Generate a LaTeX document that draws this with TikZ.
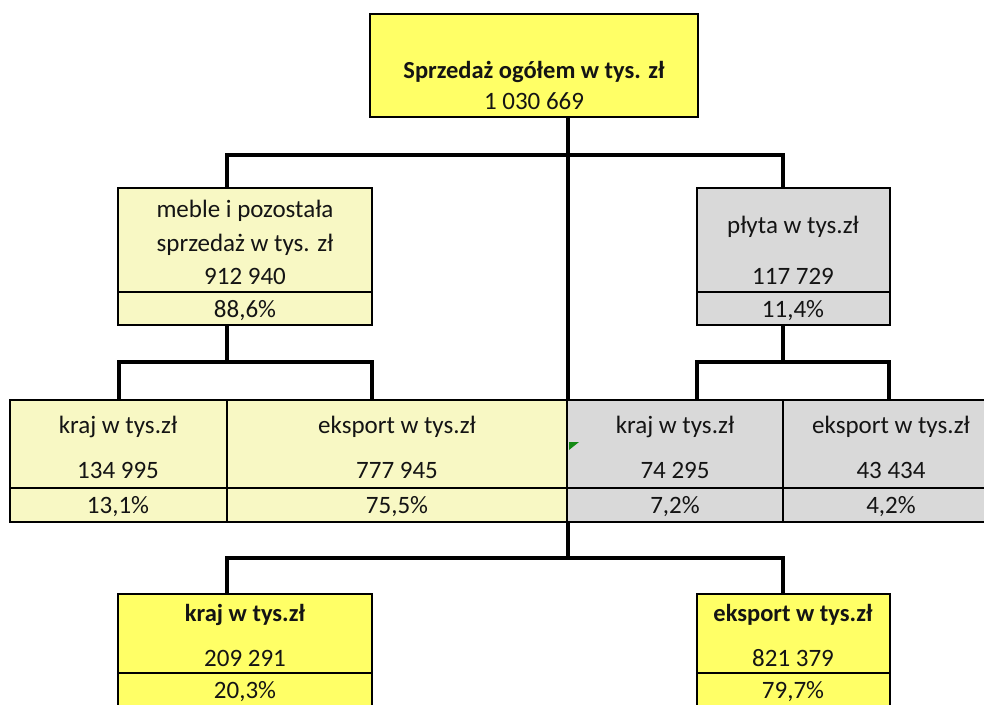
\documentclass[tikz,border=0pt]{standalone}
\usepackage{fontspec}
\setmainfont{Carlito}
\definecolor{ybright}{HTML}{FFFF66}
\definecolor{ypale}{HTML}{F8F8C4}
\definecolor{greyc}{HTML}{D9D9D9}
\definecolor{txt}{HTML}{141414}
\definecolor{flag}{HTML}{138A13}
\begin{document}
\begin{tikzpicture}[x=1pt,y=-1pt,
  cell/.style={draw=black, line width=2.8pt, inner sep=0pt, outer sep=0pt, anchor=north west},
  lbl/.style={text=txt, font=\fontsize{25}{29}\selectfont, inner sep=0pt, anchor=base},
  blbl/.style={text=txt, font=\fontsize{24.5}{29}\selectfont\bfseries, inner sep=0pt, anchor=base},
  conn/.style={line width=3.8pt, draw=black, line cap=rect}]
\useasboundingbox (0,0) rectangle (984,704);
\clip (0,0) rectangle (984,704);
\fill[white] (0,0) rectangle (984,704);

% connectors
\coordinate (t0) at (568,117);
\coordinate (bj) at (568,558);
\coordinate (ml) at (227,155);
\coordinate (mr) at (783,155);
\draw[conn] (t0) -- (bj);
\draw[conn] (ml) -- (mr);
\draw[conn] (ml) -- (227,188);
\draw[conn] (mr) -- (783,188);
\coordinate (lA) at (227,325);
\coordinate (lB) at (227,362);
\draw[conn] (lA) -- (lB);
\draw[conn] (119,400) -- (119,362) -- (372,362) -- (372,400);
\coordinate (rA) at (783,325);
\coordinate (rB) at (783,362);
\draw[conn] (rA) -- (rB);
\draw[conn] (697,400) -- (697,362) -- (889,362) -- (889,400);
\draw[conn] (227,594) -- (227,558) -- (783,558) -- (783,594);

% top
\node[cell, fill=ybright, minimum width=328, minimum height=103] (top) at (370,14) {};
% level 2
\node[cell, fill=ypale, minimum width=254, minimum height=104] (meb) at (118,188) {};
\node[cell, fill=ypale, minimum width=254, minimum height=33] (mebp) at (118,292) {};
\node[cell, fill=greyc, minimum width=193, minimum height=104] (ply) at (697,188) {};
\node[cell, fill=greyc, minimum width=193, minimum height=33] (plyp) at (697,292) {};
% level 3
\node[cell, fill=ypale, minimum width=217, minimum height=88] (k1) at (10,400) {};
\node[cell, fill=ypale, minimum width=217, minimum height=34] (k1p) at (10,488) {};
\node[cell, fill=ypale, minimum width=340, minimum height=88] (e1) at (227,400) {};
\node[cell, fill=ypale, minimum width=340, minimum height=34] (e1p) at (227,488) {};
\node[cell, fill=greyc, minimum width=216, minimum height=88] (k2) at (567,400) {};
\node[cell, fill=greyc, minimum width=216, minimum height=34] (k2p) at (567,488) {};
\node[cell, fill=greyc, minimum width=218, minimum height=88] (e2) at (783,400) {};
\node[cell, fill=greyc, minimum width=218, minimum height=34] (e2p) at (783,488) {};
\fill[flag] (569,442) -- (579,442) -- (569,450) -- cycle;
% bottom
\node[cell, fill=ybright, minimum width=254, minimum height=79] (bl) at (118,594) {};
\node[cell, fill=ybright, minimum width=254, minimum height=50] (blp) at (118,673) {};
\node[cell, fill=ybright, minimum width=193, minimum height=79] (br) at (697,594) {};
\node[cell, fill=ybright, minimum width=193, minimum height=50] (brp) at (697,673) {};

% texts
\node[blbl] (t1) at (534,78) {Sprzedaż ogółem w tys. zł};
\node[lbl] (t2) at (534,109) {1 030 669};
\node[lbl] (m1) at (245,217) {meble i pozostała};
\node[lbl] (m2) at (245,251) {sprzedaż w tys. zł};
\node[lbl] (m3) at (245,284) {912 940};
\node[lbl] (m4) at (245,317) {88,6\%};
\node[lbl] (p1) at (793,233) {płyta w tys.zł};
\node[lbl] (p2) at (793,284) {117 729};
\node[lbl] (p3) at (793,317) {11,4\%};
\node[lbl] (a1) at (118,433) {kraj w tys.zł};
\node[lbl] (a2) at (118,478) {134 995};
\node[lbl] (a3) at (118,513) {13,1\%};
\node[lbl] (b1) at (397,433) {eksport w tys.zł};
\node[lbl] (b2) at (397,478) {777 945};
\node[lbl] (b3) at (397,513) {75,5\%};
\node[lbl] (c1) at (675,433) {kraj w tys.zł};
\node[lbl] (c2) at (675,478) {74 295};
\node[lbl] (c3) at (675,513) {7,2\%};
\node[lbl] (d1) at (891,433) {eksport w tys.zł};
\node[lbl] (d2) at (891,478) {43 434};
\node[lbl] (d3) at (891,513) {4,2\%};
\node[blbl] (f1) at (245,621) {kraj w tys.zł};
\node[lbl] (f2) at (245,666) {209 291};
\node[lbl] (f3) at (245,698) {20,3\%};
\node[blbl] (g1) at (793,621) {eksport w tys.zł};
\node[lbl] (g2) at (793,666) {821 379};
\node[lbl] (g3) at (793,698) {79,7\%};
\end{tikzpicture}
\end{document}
